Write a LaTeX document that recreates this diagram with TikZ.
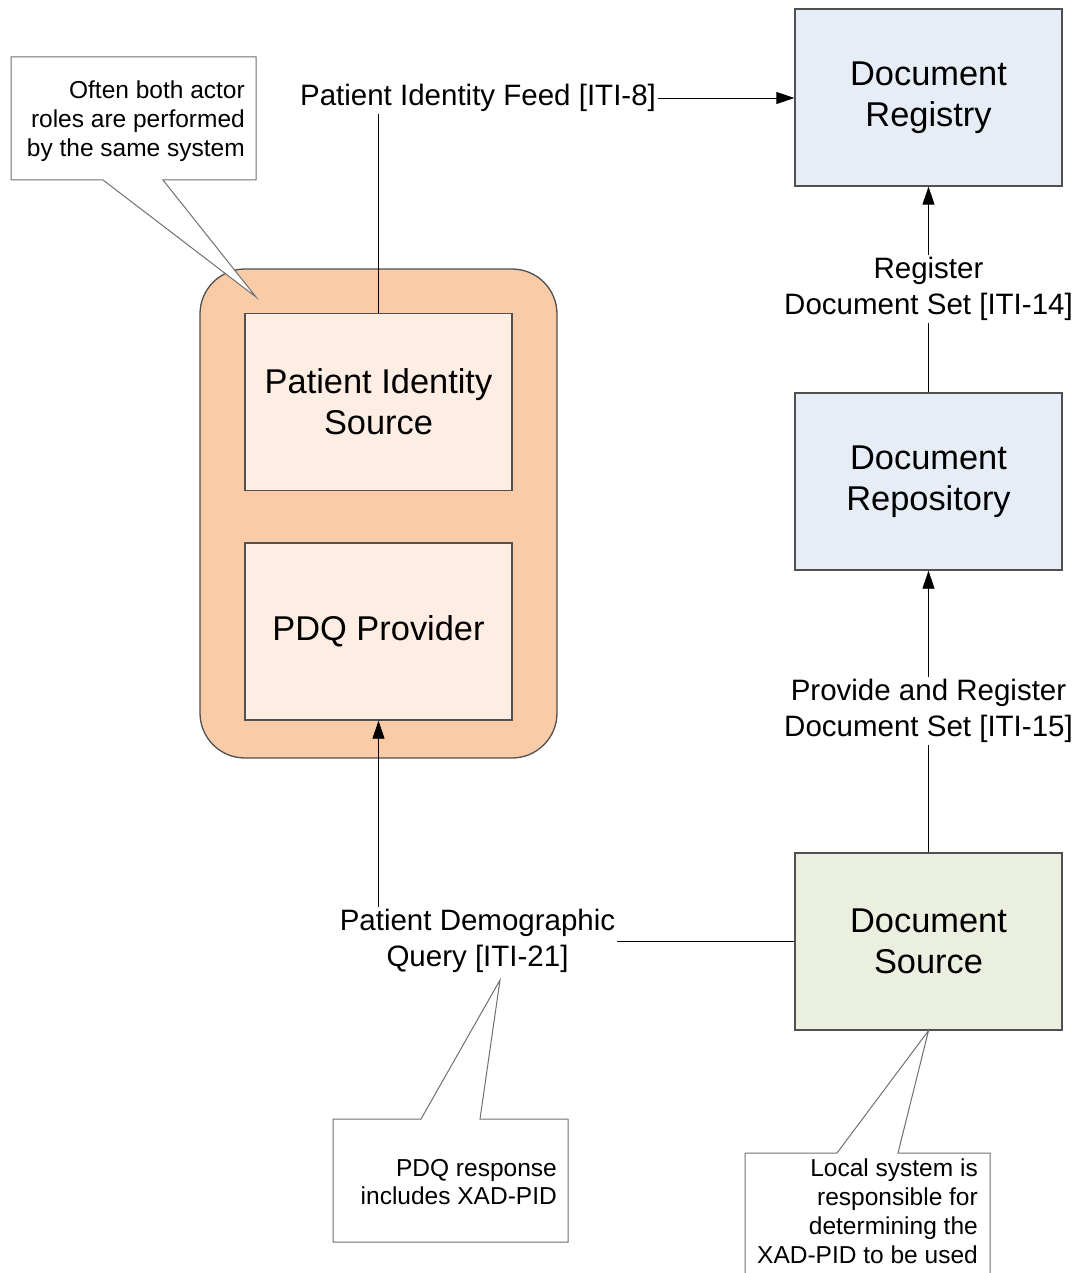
\documentclass[tikz,border=0pt]{standalone}
\usepackage{fontspec}
\setmainfont{Liberation Sans}
\usetikzlibrary{arrows.meta,calc}

\definecolor{regblue}{HTML}{E6EDF7}
\definecolor{srcgreen}{HTML}{EBEFDF}
\definecolor{grouporange}{HTML}{F9CBA6}
\definecolor{actorpeach}{HTML}{FDEDE2}
\definecolor{boxline}{HTML}{505050}
\definecolor{noteline}{HTML}{707070}

\begin{document}
\begin{tikzpicture}[x=1pt,y=-1pt,
  actorbox/.style={draw=boxline, line width=1.3pt, minimum width=267pt, minimum height=177pt,
    align=center, inner sep=0pt, font=\fontsize{34.4}{41}\selectfont},
  flowlabel/.style={align=center, inner sep=2pt, font=\fontsize{29.5}{36}\selectfont},
  notetext/.style={align=right, inner sep=0pt, font=\fontsize{24.5}{28.8}\selectfont},
  notebd/.style={draw=noteline, line width=1pt, fill=white, line join=miter},
  link/.style={draw=black, line width=0.8pt},
  arr/.style={link, -{Triangle[length=18pt,width=12pt]}}
]
\useasboundingbox (0,0) rectangle (1079,1273);
\clip (0,0) rectangle (1079,1273);

% grouping of the two patient actors
\node[draw=boxline, line width=1.3pt, fill=grouporange, rounded corners=45pt,
      minimum width=357pt, minimum height=489pt, inner sep=0pt] (grp) at (378.5,513.5) {};

% actors
\node[actorbox, fill=actorpeach] (pis) at (378.5,402) {Patient Identity\\Source};
\node[actorbox, fill=actorpeach] (pdq) at (378.5,631.5) {PDQ Provider};
\node[actorbox, fill=regblue] (reg) at (928.5,97.5) {Document\\Registry};
\node[actorbox, fill=regblue] (repo) at (928.5,481.5) {Document\\Repository};
\node[actorbox, fill=srcgreen] (src) at (928.5,941.5) {Document\\Source};

% transaction labels
\node[flowlabel] (feed) at (478,98) {Patient Identity Feed [ITI-8]};
\node[flowlabel, fill=white] (regset) at (928.5,289) {Register\\Document Set [ITI-14]};
\node[flowlabel, fill=white] (provset) at (928.5,711) {Provide and Register\\Document Set [ITI-15]};
\node[flowlabel] (pdqq) at (477.5,941) {Patient Demographic\\Query [ITI-21]};

% transactions
\draw[link] (pis.north) -- (pis.north |- feed.south);
\draw[arr] (feed.east) -- (reg.west |- feed.east);
\draw[link] (repo.north) -- (regset.south);
\draw[arr] (regset.north) -- (reg.south);
\draw[link] (src.north) -- (provset.south);
\draw[arr] (provset.north) -- (repo.south);
\draw[link] (src.west) -- (src.west -| pdqq.east);
\draw[arr] (pdqq.north -| pdq.south) -- (pdq.south);

% callout notes
\coordinate (tipA) at (256,297);
\coordinate (tipB) at (500,980);
\coordinate (tipC) at (src.south);

\draw[notebd] (11,57) -- (256,57) -- (256,180) -- (163,180) -- (tipA) -- (103,180) -- (11,180) -- cycle;
\node[notetext, anchor=east] (noteA) at (245,121) {Often both actor\\roles are performed\\by the same system};

\draw[notebd] (333,1119) -- (421,1119) -- (tipB) -- (480,1119) -- (568,1119) -- (568,1242) -- (333,1242) -- cycle;
\node[notetext, anchor=east] (noteB) at (557,1182) {PDQ response\\includes XAD-PID};

\draw[notebd] (745,1300) -- (745,1153) -- (837,1153) -- (tipC) -- (898,1153) -- (990,1153) -- (990,1300);
\node[notetext, anchor=north east] (noteC) at (978,1159) {Local system is\\responsible for\\determining the\\XAD-PID to be used};
\end{tikzpicture}
\end{document}
